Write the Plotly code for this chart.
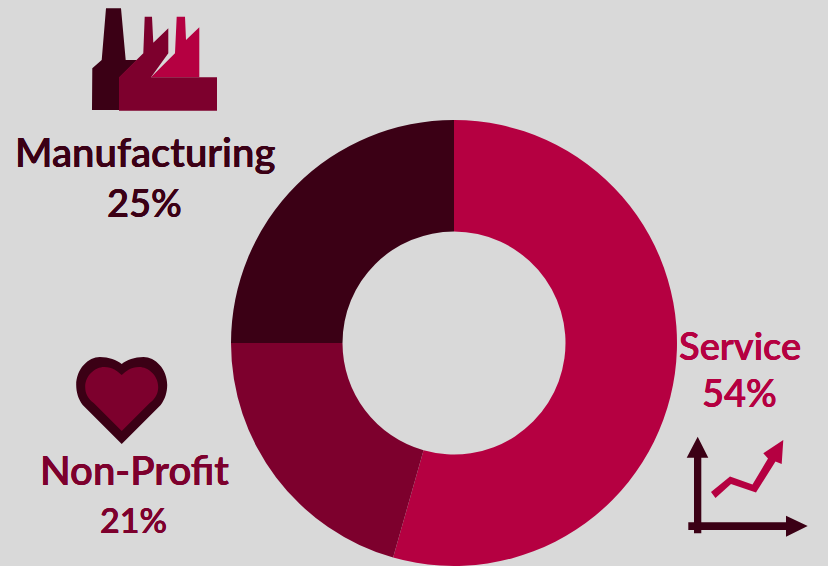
import plotly.graph_objects as go

W, H = 828, 566

categories = ["Service", "Non-Profit", "Manufacturing"]
values = [54.4, 20.6, 25.0]
colors = ["#B50041", "#7D002D", "#3B0015"]
BG = "#D9D9D9"
FONT = "Lato"


def px(x):
    return x / W


def py(y):
    return 1 - y / H


def poly(points, fill):
    d = "M " + " L ".join(f"{px(x):.5f},{py(y):.5f}" for x, y in points) + " Z"
    return dict(type="path", xref="paper", yref="paper", path=d,
                fillcolor=fill, line=dict(width=0), layer="above")


def curve(d_cmds, fill):
    parts = []
    for cmd, pts in d_cmds:
        parts.append(cmd + " " + " ".join(f"{px(x):.5f},{py(y):.5f}" for x, y in pts))
    return dict(type="path", xref="paper", yref="paper", path=" ".join(parts) + " Z",
                fillcolor=fill, line=dict(width=0), layer="above")


def heart(cx, top, notch, bottom, hw, ymid, dy_side, fill):
    flank = bottom - (ymid + dy_side)
    lobe = hw * 0.48
    return curve([
        ("M", [(cx, bottom)]),
        ("L", [(cx - flank, ymid + dy_side)]),
        ("C", [(cx - hw + 2, ymid + dy_side * 0.7), (cx - hw, ymid + dy_side * 0.35), (cx - hw, ymid)]),
        ("C", [(cx - hw, ymid - (ymid - top) * 0.58), (cx - lobe - hw * 0.25, top), (cx - lobe, top)]),
        ("C", [(cx - lobe + 9, top), (cx - 5, notch - 4), (cx, notch)]),
        ("C", [(cx + 5, notch - 4), (cx + lobe - 9, top), (cx + lobe, top)]),
        ("C", [(cx + lobe + hw * 0.25, top), (cx + hw, ymid - (ymid - top) * 0.58), (cx + hw, ymid)]),
        ("C", [(cx + hw, ymid + dy_side * 0.35), (cx + hw - 2, ymid + dy_side * 0.7), (cx + flank, ymid + dy_side)]),
    ], fill)


shapes = [
    # factory
    poly([(92, 110), (92.3, 68.3), (101.7, 60), (106, 8.3), (121, 8.3), (125.7, 60),
          (137, 60), (119, 78), (119, 110)], colors[2]),
    poly([(151, 77.3), (175, 53.3), (176.7, 16.7), (185, 16.7), (186, 40),
          (199.3, 27.3), (199.3, 77.3)], colors[0]),
    poly([(119, 77.3), (143.3, 53.3), (144.7, 16.7), (152, 16.7), (153.3, 42.7),
          (168.3, 28.3), (168.3, 53.3), (151, 77.3), (217, 77.3), (217, 110.7),
          (119, 110.7)], colors[1]),
    # heart
    heart(121.7, 357, 364, 444, 45.5, 385, 20, colors[2]),
    heart(121.7, 367, 375, 431, 36.5, 387, 16, colors[1]),
    # chart icon
    poly([(694, 533.3), (694, 457.7), (686.7, 457.7), (697.7, 436.7), (708.3, 457.7),
          (701.3, 457.7), (701.3, 533.3)], colors[2]),
    poly([(688.3, 522.3), (786, 522.3), (786, 515.7), (807.7, 526), (786, 536.7),
          (786, 530), (688.3, 530)], colors[2]),
    poly([(711, 492), (730, 476.5), (752.5, 484.5), (768, 458.5), (763.3, 453.3),
          (783.3, 440), (781.7, 464), (775.5, 461.5), (756, 492.5), (731, 484),
          (715.5, 498)], colors[0]),
]

labels = [
    ("Manufacturing", 145, 152, colors[2], 40),
    ("25%", 144, 202, colors[2], 38),
    ("Non-Profit", 134, 470, colors[1], 40),
    ("21%", 133, 519, colors[1], 34),
    ("Service", 740, 345, colors[0], 38),
    ("54%", 739, 392, colors[0], 38),
]

fig = go.Figure(go.Pie(
    labels=categories,
    values=values,
    hole=0.5,
    sort=False,
    direction="clockwise",
    rotation=0,
    marker=dict(colors=colors, line=dict(width=0)),
    textinfo="none",
    hoverinfo="label+percent",
    showlegend=False,
    domain=dict(x=[px(231), px(677)], y=[py(566), py(120)]),
))

fig.update_layout(
    width=W, height=H,
    autosize=False,
    margin=dict(l=0, r=0, t=0, b=0),
    paper_bgcolor=BG,
    plot_bgcolor=BG,
    shapes=shapes,
    annotations=[
        dict(text=t, x=px(x), y=py(y), xref="paper", yref="paper", showarrow=False,
             xanchor="center", yanchor="middle",
             font=dict(family=FONT, size=s, color=c, weight=600,
                       shadow=f"0.25px 0 0 {c}, -0.25px 0 0 {c}"))
        for t, x, y, c, s in labels
    ],
)

fig.write_html(
    "out.html",
    config=dict(displayModeBar=False),
    post_script="document.body.style.margin='0';document.body.style.overflow='hidden';"
                "document.body.style.background='#D9D9D9';",
)
